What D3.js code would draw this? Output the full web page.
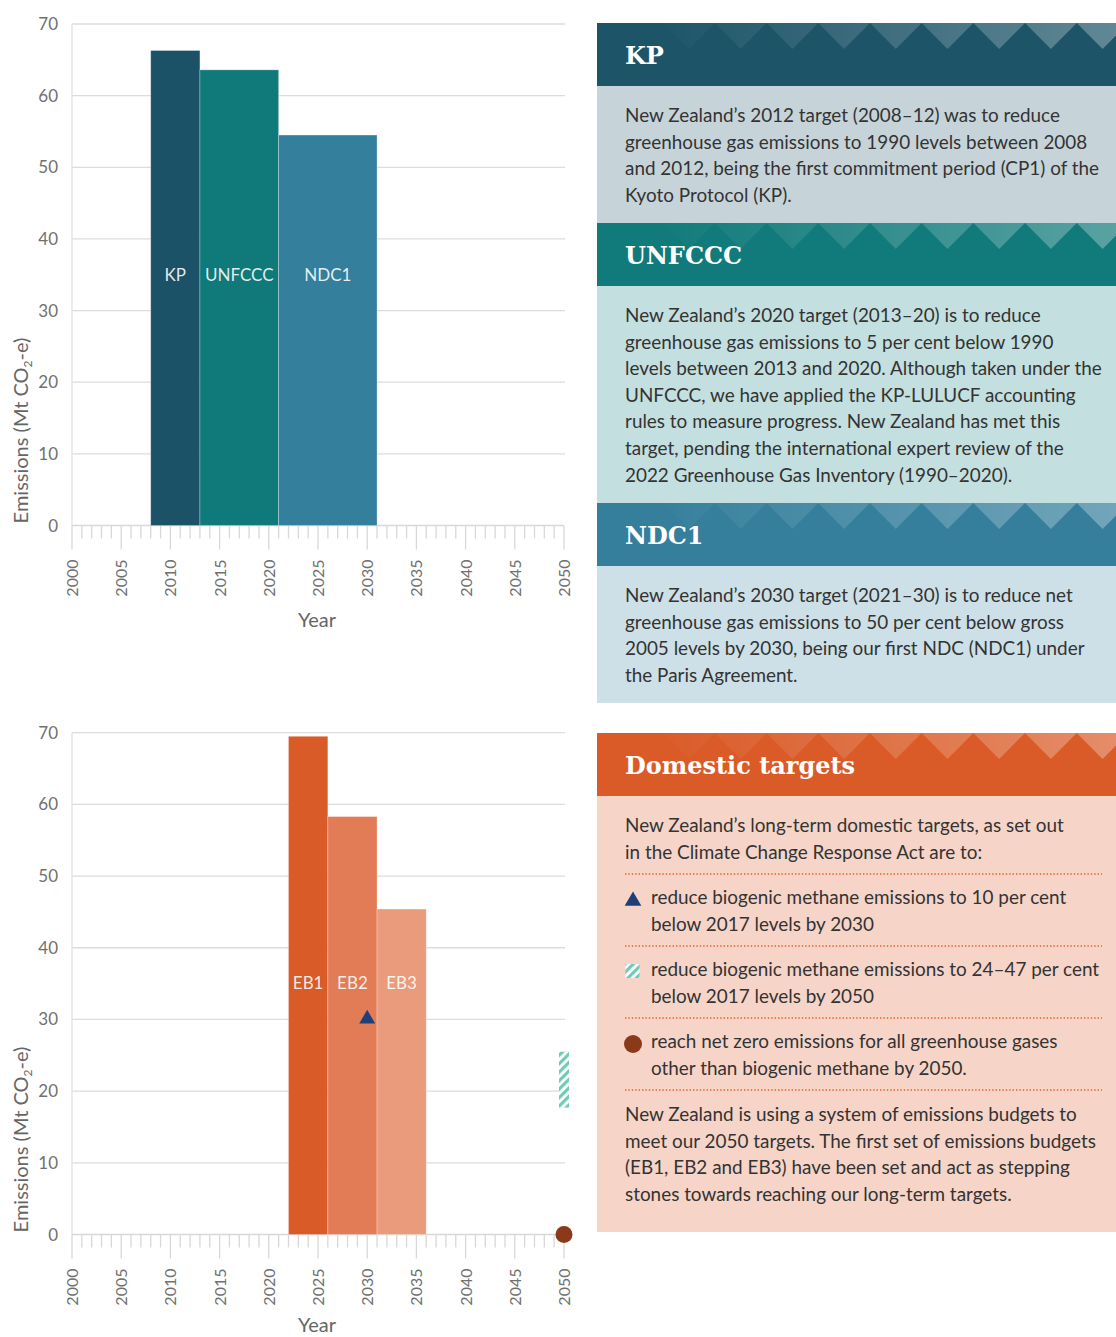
<!DOCTYPE html>
<meta charset="utf-8">
<style>
  body { margin: 0; background: #fff; }
  text { font-family: Lato, "Open Sans", sans-serif; }
  text.head { font-family: "DejaVu Serif", serif; font-weight: bold; }
</style>
<svg width="1116" height="1337"></svg>

<script src="https://cdn.jsdelivr.net/npm/d3@7/dist/d3.min.js"></script>
<script>
// international targets (top chart)
var intlNames = ['KP', 'UNFCCC', 'NDC1']
var intlStart = [2008, 2013, 2021]
var intlEnd = [2013, 2021, 2031]
var intlValues = [66.3, 63.6, 54.5]
var intlColors = ['#1c5267', '#10797a', '#347f9c']

// emissions budgets (bottom chart)
var budgetNames = ['EB1', 'EB2', 'EB3']
var budgetStart = [2022, 2026, 2031]
var budgetEnd = [2026, 2031, 2036]
var budgetValues = [69.5, 58.3, 45.4]
var budgetColors = ['#d95b28', '#e27c56', '#e99b7c']

// domestic target markers
var methane2030Year = 2030
var methane2030Value = 30.2
var methane2050Year = 2050
var methane2050Range = [17.7, 25.5]
var netZeroYear = 2050
var netZeroValue = 0

var yTicks = [0, 10, 20, 30, 40, 50, 60, 70]
var yearTicks = d3.range(2000, 2051)
var yearLabels = d3.range(2000, 2051, 5)

var panels = [
  { title: 'KP', top: 23, head: '#1d5468', body: '#c6d4da', bodyEnd: 223,
    lines: [
      'New Zealand\u2019s 2012 target (2008\u201312) was to reduce',
      'greenhouse gas emissions to 1990 levels between 2008',
      'and 2012, being the first commitment period (CP1) of the',
      'Kyoto Protocol (KP).'
    ] },
  { title: 'UNFCCC', top: 223, head: '#117a7a', body: '#c4dfdf', bodyEnd: 503,
    lines: [
      'New Zealand\u2019s 2020 target (2013\u201320) is to reduce',
      'greenhouse gas emissions to 5 per cent below 1990',
      'levels between 2013 and 2020. Although taken under the',
      'UNFCCC, we have applied the KP-LULUCF accounting',
      'rules to measure progress. New Zealand has met this',
      'target, pending the international expert review of the',
      '2022 Greenhouse Gas Inventory (1990\u20132020).'
    ] },
  { title: 'NDC1', top: 503, head: '#357f9c', body: '#cde0e7', bodyEnd: 703,
    lines: [
      'New Zealand\u2019s 2030 target (2021\u201330) is to reduce net',
      'greenhouse gas emissions to 50 per cent below gross',
      '2005 levels by 2030, being our first NDC (NDC1) under',
      'the Paris Agreement.'
    ] }
]

var domesticIntro = [
  'New Zealand\u2019s long-term domestic targets, as set out',
  'in the Climate Change Response Act are to:'
]
var domesticBullets = [
  ['reduce biogenic methane emissions to 10 per cent', 'below 2017 levels by 2030'],
  ['reduce biogenic methane emissions to 24\u201347 per cent', 'below 2017 levels by 2050'],
  ['reach net zero emissions for all greenhouse gases', 'other than biogenic methane by 2050.']
]
var domesticOutro = [
  'New Zealand is using a system of emissions budgets to',
  'meet our 2050 targets. The first set of emissions budgets',
  '(EB1, EB2 and EB3) have been set and act as stepping',
  'stones towards reaching our long-term targets.'
]

var svg = d3.select('svg')
var defs = svg.append('defs')

var fade = defs.append('linearGradient').attr('id', 'fade')
  .attr('gradientUnits', 'userSpaceOnUse')
  .attr('x1', 650).attr('x2', 1116).attr('y1', 0).attr('y2', 0)
fade.append('stop').attr('offset', 0).attr('stop-color', '#fff').attr('stop-opacity', 0)
fade.append('stop').attr('offset', 1).attr('stop-color', '#fff').attr('stop-opacity', 0.3)

var hatch = defs.append('pattern').attr('id', 'hatch')
  .attr('patternUnits', 'userSpaceOnUse')
  .attr('width', 6).attr('height', 6)
  .attr('patternTransform', 'rotate(45)')
hatch.append('rect').attr('width', 6).attr('height', 6).attr('fill', '#fff')
hatch.append('rect').attr('width', 3.2).attr('height', 6).attr('fill', '#6fcab6')

var x = d3.scaleLinear().domain([2000, 2050]).range([72, 564])

function drawChart(y0, y1, yearY) {
  var y = d3.scaleLinear().domain([0, 70]).range([y0, y1])
  var g = svg.append('g')

  // gridlines
  g.selectAll('line.grid').data(yTicks.slice(1)).enter().append('line')
    .attr('x1', x(2000)).attr('x2', x(2050) + 1)
    .attr('y1', function (d) { return y(d) }).attr('y2', function (d) { return y(d) })
    .attr('stroke', '#dcdcdc').attr('stroke-width', 1.3)
  g.append('line')
    .attr('x1', x(2000)).attr('x2', x(2000))
    .attr('y1', y(70)).attr('y2', y(0))
    .attr('stroke', '#e2e2e2').attr('stroke-width', 1.3)

  g.selectAll('text.ylab').data(yTicks).enter().append('text')
    .attr('x', 58).attr('y', function (d) { return y(d) + 6 })
    .attr('text-anchor', 'end').attr('font-size', 17).attr('fill', '#707070')
    .text(function (d) { return d })

  var title = g.append('text')
    .attr('transform', 'translate(28,' + (y0 - 95) + ') rotate(-90)')
    .attr('text-anchor', 'middle').attr('font-size', 20).attr('fill', '#666')
  title.append('tspan').text('Emissions (Mt CO')
  title.append('tspan').attr('font-size', 12).attr('dy', 4).text('2')
  title.append('tspan').attr('dy', -4).text('-e)')

  // x axis
  var axis = g.append('g')
  axis.append('line')
    .attr('x1', x(2000)).attr('x2', x(2050))
    .attr('y1', y0).attr('y2', y0)
    .attr('stroke', '#d8d8d8').attr('stroke-width', 1.3)
  axis.selectAll('line.tick').data(yearTicks).enter().append('line')
    .attr('x1', function (d) { return x(d) }).attr('x2', function (d) { return x(d) })
    .attr('y1', y0)
    .attr('y2', function (d) { return d % 5 === 0 ? y0 + 24 : y0 + 13 })
    .attr('stroke', '#d8d8d8').attr('stroke-width', 1.3)
  axis.selectAll('text.xlab').data(yearLabels).enter().append('text')
    .attr('transform', function (d) { return 'translate(' + (x(d) + 6) + ',' + (y0 + 34) + ') rotate(-90)' })
    .attr('text-anchor', 'end').attr('font-size', 16).attr('fill', '#707070')
    .text(function (d) { return d })
  g.append('text')
    .attr('x', 317).attr('y', yearY)
    .attr('text-anchor', 'middle').attr('font-size', 20).attr('fill', '#666')
    .text('Year')

  return { g: g, y: y }
}

function drawBars(chart, names, starts, ends, values, colors, labelY) {
  var y = chart.y
  var bars = chart.g.append('g')
  bars.selectAll('rect').data(names).enter().append('rect')
    .attr('x', function (d, i) { return x(starts[i]) })
    .attr('width', function (d, i) { return x(ends[i]) - x(starts[i]) })
    .attr('y', function (d, i) { return y(values[i]) })
    .attr('height', function (d, i) { return y(0) - y(values[i]) })
    .attr('fill', function (d, i) { return colors[i] })
    .attr('stroke', 'rgba(255,255,255,0.35)').attr('stroke-width', 0.8)
  bars.selectAll('text').data(names).enter().append('text')
    .attr('x', function (d, i) { return (x(starts[i]) + x(ends[i])) / 2 })
    .attr('y', labelY)
    .attr('text-anchor', 'middle').attr('font-size', 17)
    .attr('fill', 'rgba(255,255,255,0.88)')
    .text(function (d) { return d })
}

var topChart = drawChart(525.5, 24, 627)
drawBars(topChart, intlNames, intlStart, intlEnd, intlValues, intlColors, 281)

var bottomChart = drawChart(1234.5, 732.7, 1332)
drawBars(bottomChart, budgetNames, budgetStart, budgetEnd, budgetValues, budgetColors, 989)

var by = bottomChart.y
bottomChart.g.append('path')
  .attr('d', d3.symbol().type(d3.symbolTriangle).size(110)())
  .attr('transform', 'translate(' + x(methane2030Year) + ',' + (by(methane2030Value) + 1) + ')')
  .attr('fill', '#1f3f79')
bottomChart.g.append('rect')
  .attr('x', x(methane2050Year) - 5).attr('width', 10)
  .attr('y', by(methane2050Range[1]))
  .attr('height', by(methane2050Range[0]) - by(methane2050Range[1]))
  .attr('fill', 'url(#hatch)')
bottomChart.g.append('circle')
  .attr('cx', x(netZeroYear)).attr('cy', by(netZeroValue))
  .attr('r', 8.5).attr('fill', '#8b391b')

// right hand panels
function drawHeader(y0, color, title) {
  var g = svg.append('g')
  g.append('rect').attr('x', 597).attr('y', y0).attr('width', 519).attr('height', 63).attr('fill', color)
  var apex = d3.range(0, 10).map(function (i) { return 689 + i * 51.7 })
  g.selectAll('path').data(apex).enter().append('path')
    .attr('d', function (a) {
      return 'M' + (a - 25.85) + ',' + y0 + 'L' + (a + 25.85) + ',' + y0 + 'L' + a + ',' + (y0 + 26) + 'Z'
    })
    .attr('fill', 'url(#fade)')
  g.append('text').attr('class', 'head')
    .attr('x', 625).attr('y', y0 + 41)
    .attr('font-size', 24).attr('fill', '#fff')
    .text(title)
}

function drawLines(lines, x0, firstBaseline) {
  svg.append('g').selectAll('text').data(lines).enter().append('text')
    .attr('x', x0).attr('y', function (d, i) { return firstBaseline + i * 26.6 })
    .attr('font-size', 18.9).attr('fill', '#333')
    .text(function (d) { return d })
}

panels.forEach(function (p) {
  svg.append('rect').attr('x', 597).attr('y', p.top + 63)
    .attr('width', 519).attr('height', p.bodyEnd - p.top - 63).attr('fill', p.body)
  drawHeader(p.top, p.head, p.title)
  drawLines(p.lines, 625, p.top + 99)
})

svg.append('rect').attr('x', 597).attr('y', 796).attr('width', 519).attr('height', 436).attr('fill', '#f6d5c8')
drawHeader(733, '#da5b28', 'Domestic targets')
drawLines(domesticIntro, 625, 832)

var dotY = [874, 946, 1018, 1090]
svg.append('g').selectAll('line').data(dotY).enter().append('line')
  .attr('x1', 625).attr('x2', 1102)
  .attr('y1', function (d) { return d }).attr('y2', function (d) { return d })
  .attr('stroke', '#e2612c').attr('stroke-width', 1.6).attr('stroke-dasharray', '1.4,2')

domesticBullets.forEach(function (b, i) {
  drawLines(b, 651, 904 + i * 72)
})
svg.append('path')
  .attr('d', d3.symbol().type(d3.symbolTriangle).size(120)())
  .attr('transform', 'translate(633,901)').attr('fill', '#1f3f79')
svg.append('rect').attr('x', 625.5).attr('y', 964).attr('width', 14).attr('height', 14).attr('fill', 'url(#hatch)')
svg.append('circle').attr('cx', 633).attr('cy', 1044).attr('r', 9).attr('fill', '#8b391b')

drawLines(domesticOutro, 625, 1121)
</script>
